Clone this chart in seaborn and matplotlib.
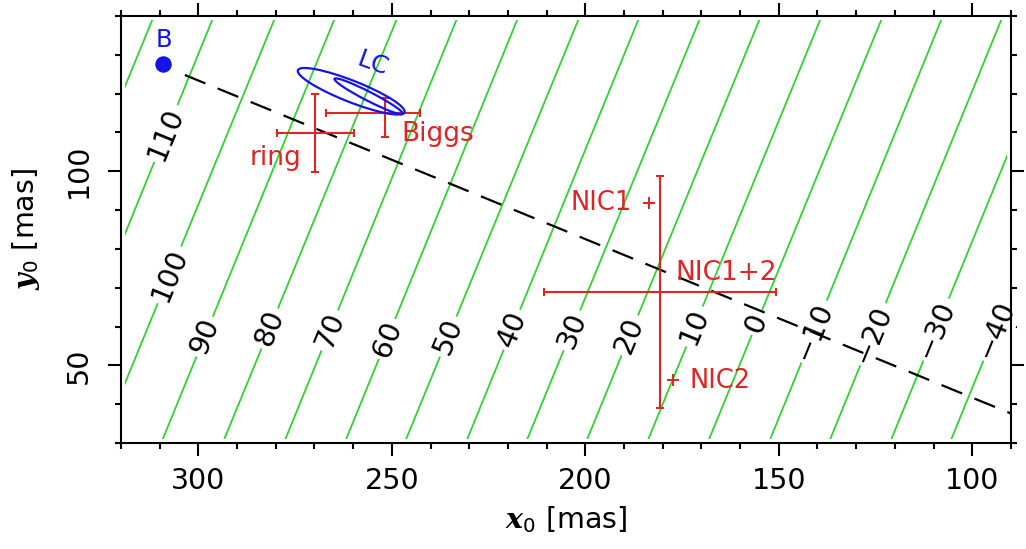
import numpy as np
import pandas as pd
import matplotlib
matplotlib.use("Agg")
import matplotlib.pyplot as plt
from matplotlib.patches import Ellipse, Rectangle
from matplotlib.ticker import MultipleLocator
import seaborn as sns

# ---------------- data ----------------
contour_levels = [120, 110, 100, 90, 80, 70, 60, 50, 40, 30, 20, 10, 0, -10, -20, -30, -40]
# x where each contour meets y = 31 (lower) and y = 139 (upper)
contour_x_low = [356.4, 340.6, 324.9, 309.2, 293.3, 277.5, 261.8, 246.3, 230.5,
                 215.0, 199.5, 183.7, 168.0, 152.2, 136.7, 120.9, 105.4]
contour_x_high = [311.9, 296.4, 280.4, 264.9, 248.8, 233.3, 217.6, 201.8, 186.3,
                  170.5, 155.0, 139.3, 123.5, 108.0, 92.5, 76.6, 61.1]
contour_y_ends = [31.0, 139.0]
labeled_levels = [110, 100, 90, 80, 70, 60, 50, 40, 30, 20, 10, 0, -10, -20, -30, -40]

source_B_x = [309.2]
source_B_y = [127.6]

dash_x = [303.5, 90.0]
dash_y = [124.8, 37.6]

est_names = ["ring", "Biggs", "NIC1+2"]
est_x = [269.8, 251.8, 180.7]
est_y = [109.8, 115.1, 68.9]
est_xerr_lo = [10.0, 9.2, 30.0]
est_xerr_hi = [10.0, 15.1, 30.0]
est_yerr_lo = [10.0, 6.2, 30.0]
est_yerr_hi = [10.0, 3.7, 30.0]

nic_names = ["NIC1", "NIC2"]
nic_x = [183.5, 177.4]
nic_y = [91.7, 46.2]

lc_cx = [260.5, 256.0]
lc_cy = [120.6, 119.3]
lc_w = [29.6, 19.8]
lc_h = [5.5, 2.3]
lc_ang = [21.5, 27.1]

# ---------------- layout / style ----------------
GREEN = "#2fd42f"
RED = "#e02424"
BLUE = "#1414e6"
FS = 20.5

sns.set_theme(style="ticks")
plt.rcParams["font.family"] = ["DejaVu Sans"]
plt.rcParams["text.color"] = "black"
plt.rcParams["axes.labelcolor"] = "black"
plt.rcParams["xtick.color"] = "black"
plt.rcParams["ytick.color"] = "black"
plt.rcParams["mathtext.fontset"] = "custom"
plt.rcParams["mathtext.rm"] = "DejaVu Sans"
plt.rcParams["mathtext.it"] = "DejaVu Sans:italic"
plt.rcParams["mathtext.bf"] = "DejaVu Sans:bold"
try:
    plt.rcParams["mathtext.bfit"] = "DejaVu Serif:italic:bold"
    BFIT = True
except KeyError:
    BFIT = False

fig = plt.figure(figsize=(10.26, 5.49), dpi=100)
ax = fig.add_axes([0.1179, 0.1931, 0.8674, 0.7778])
ax.set_xlim(320, 90)
ax.set_ylim(30, 140)
ax.set_facecolor("white")

# contour lines
rows = []
for lev, xl, xh in zip(contour_levels, contour_x_low, contour_x_high):
    rows.append({"level": lev, "x": xl, "y": contour_y_ends[0]})
    rows.append({"level": lev, "x": xh, "y": contour_y_ends[1]})
cdf = pd.DataFrame(rows)
n0 = len(ax.lines)
sns.lineplot(data=cdf, x="x", y="y", units="level", estimator=None, sort=False,
             color=GREEN, lw=1.3, ax=ax, legend=False, zorder=1)
clip = Rectangle((91, 31), 228, 108, transform=ax.transData, visible=False)
for ln in ax.lines[n0:]:
    ln.set_clip_path(clip)

# contour labels
label_y = [109.7, 73.3, 57.4, 59.5, 59.0, 56.8, 57.4, 59.2, 59.0, 57.7, 60.0, 60.8,
           58.7, 58.0, 59.2, 59.2]
p0 = ax.transData.transform((contour_x_low[0], contour_y_ends[0]))
p1 = ax.transData.transform((contour_x_high[0], contour_y_ends[1]))
rot = np.degrees(np.arctan2(p1[1] - p0[1], p1[0] - p0[0]))
for lev, ly in zip(labeled_levels, label_y):
    i = contour_levels.index(lev)
    xl, xh = contour_x_low[i], contour_x_high[i]
    lx = xl + (ly - contour_y_ends[0]) * (xh - xl) / (contour_y_ends[1] - contour_y_ends[0])
    txt = str(lev).replace("-", "\u2212")
    ax.text(lx, ly, txt, rotation=rot, rotation_mode="anchor", ha="center", va="center",
            fontsize=FS, color="black", zorder=2,
            bbox=dict(boxstyle="square,pad=0.12", fc="white", ec="none"))

# dashed line
sns.lineplot(x=dash_x, y=dash_y, color="black", lw=1.6, ax=ax, sort=False,
             dashes=False, zorder=3)
ax.lines[-1].set_dashes((10, 6))

# error bars
ax.errorbar(est_x, est_y, xerr=[est_xerr_lo, est_xerr_hi], yerr=[est_yerr_lo, est_yerr_hi],
            fmt="none", ecolor=RED, elinewidth=1.5, capsize=3, capthick=1.5, zorder=4)
ax.plot(nic_x, nic_y, ls="none", marker="+", ms=8, mew=1.4, color=RED, zorder=4)

# LC ellipses
for cx, cy, w, h, a in zip(lc_cx, lc_cy, lc_w, lc_h, lc_ang):
    ax.add_patch(Ellipse((cx, cy), w, h, angle=a, fill=False, ec=BLUE, lw=1.6, zorder=5))

# B point
sns.scatterplot(x=source_B_x, y=source_B_y, color=BLUE, s=120, edgecolor=BLUE, ax=ax,
                zorder=6, legend=False)

# text labels
ax.text(309.0, 133.8, "B", color=BLUE, fontsize=17.5, ha="center", va="center", zorder=6)
ax.text(255.0, 127.7, "LC", color=BLUE, fontsize=18, ha="center", va="center",
        rotation=-20, zorder=6)
ax.text(273.4, 103.5, "ring", color=RED, fontsize=19, ha="right", va="center", zorder=6)
ax.text(247.6, 109.7, "Biggs", color=RED, fontsize=19, ha="left", va="center", zorder=6)
ax.text(188.1, 91.8, "NIC1", color=RED, fontsize=18.5, ha="right", va="center", zorder=6)
ax.text(176.6, 73.8, "NIC1+2", color=RED, fontsize=19, ha="left", va="center", zorder=6)
ax.text(173.1, 46.0, "NIC2", color=RED, fontsize=18.5, ha="left", va="center", zorder=6)

# axes styling
for sp in ax.spines.values():
    sp.set_visible(True)
    sp.set_linewidth(1.5)
    sp.set_color("black")
ax.set_xticks([300, 250, 200, 150, 100])
ax.set_xticklabels(["300", "250", "200", "150", "100"], fontsize=FS)
ax.set_yticks([50, 100])
ax.set_yticklabels(["50", "100"], fontsize=FS, rotation=90, va="center")
ax.xaxis.set_minor_locator(MultipleLocator(10))
ax.yaxis.set_minor_locator(MultipleLocator(10))
ax.tick_params(which="both", direction="out", top=True, right=True,
               labeltop=False, labelright=False, color="black", labelcolor="black",
               width=1.5)
ax.tick_params(which="major", length=9.5)
ax.tick_params(which="minor", length=4.5)
ax.tick_params(axis="x", which="major", pad=8)
ax.tick_params(axis="y", which="major", pad=11)
ax.grid(False)

xl_txt = r"$\mathbfit{x}_0$ [mas]" if BFIT else r"$\mathbf{x}_0$ [mas]"
yl_txt = r"$\mathbfit{y}_0$ [mas]" if BFIT else r"$\mathbf{y}_0$ [mas]"
ax.set_xlabel(xl_txt, fontsize=FS, color="black")
ax.set_ylabel(yl_txt, fontsize=FS, color="black")
ax.xaxis.set_label_coords(0.5, -0.143)
ax.yaxis.set_label_coords(-0.089, 0.5)

fig.savefig("out.png", dpi=100)
